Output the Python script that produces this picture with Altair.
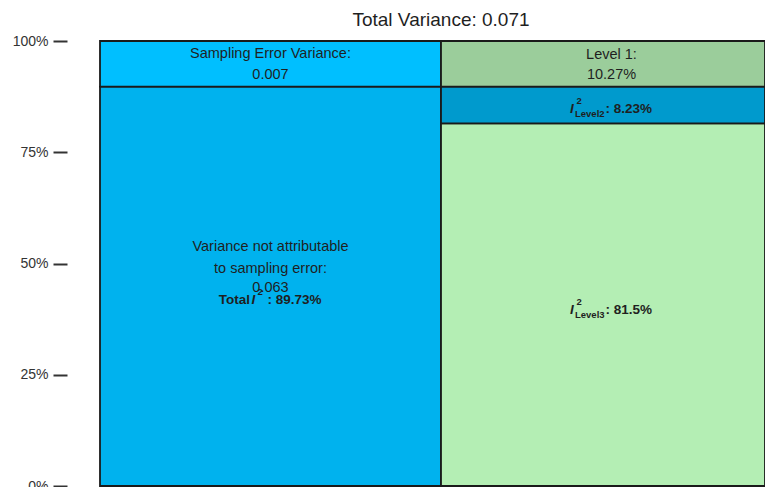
import altair as alt
import pandas as pd

FONT = "Liberation Sans"
TXT = "#1f1f1f"

# ---- data ----
columns = ["left", "left", "right", "right", "right"]
components = ["Not attributable", "Sampling error", "Level 3", "Level 2", "Level 1"]
percents = [89.73, 10.27, 81.5, 8.23, 10.27]
fill_colors = ["#00B2EE", "#00BFFF", "#B4EEB4", "#009ACD", "#9BCD9B"]
title_text = "Total Variance: 0.071"
sampling_variance = "0.007"
nonsampling_variance = "0.063"
y_ticks = [0, 25, 50, 75, 100]

W = 665          # visible plot width (the right column runs past the window edge)
COL_W = 341      # pixel width of one column
H = 445

col_index = {"left": 0, "right": 1}

# stack within each column
rows = []
cum = {}
for c, comp, p in zip(columns, components, percents):
    start = cum.get(c, 0.0)
    end = start + p
    cum[c] = end
    i = col_index[c]
    rows.append({"x0": i, "x1": i + 1, "xm": i + 0.5, "comp": comp,
                 "y0": start, "y1": end, "mid": (start + end) / 2})
df = pd.DataFrame(rows)
mid = {r["comp"]: (r["xm"], r["mid"]) for r in rows}

# clamp: the right column is cut at the edge of the visible area
xscale = alt.Scale(domain=[0, W / COL_W], nice=False, zero=False, clamp=True)
yscale = alt.Scale(domain=[0, 100], nice=False, zero=True)

yaxis = alt.Axis(
    values=y_ticks, labelExpr="datum.value + '%'", offset=33, tickSize=14,
    tickWidth=2, tickColor="#333333", domain=False, grid=False,
    labelFontSize=14, labelFont=FONT, labelColor="#333333", labelPadding=5,
    title=None,
)

bars = alt.Chart(df).mark_bar(stroke="#1a1a1a", strokeWidth=1.8).encode(
    x=alt.X("x0:Q", scale=xscale, axis=None),
    x2="x1:Q",
    y=alt.Y("y0:Q", scale=yscale, axis=yaxis),
    y2="y1:Q",
    color=alt.Color("comp:N", scale=alt.Scale(domain=components, range=fill_colors), legend=None),
)


def piece(comp, text, dx=0, dy=0, size=14.5, weight="normal", style="normal", align="center"):
    xm, m = mid[comp]
    d = pd.DataFrame({"x": [xm], "y": [m], "t": [text]})
    return alt.Chart(d).mark_text(
        dx=dx, dy=dy, fontSize=size, fontWeight=weight, fontStyle=style,
        align=align, baseline="middle", font=FONT, color=TXT,
    ).encode(
        x=alt.X("x:Q", scale=xscale, axis=None),
        y=alt.Y("y:Q", scale=yscale, axis=yaxis),
        text="t:N",
    )


# chart title as a text mark centred over the full (two-column) plot
title = alt.Chart(pd.DataFrame({"t": [title_text]})).mark_text(
    fontSize=19, font=FONT, color=TXT, align="center", baseline="alphabetic",
).encode(x=alt.value(COL_W), y=alt.value(-15), text="t:N")

B = 13.5
S = 9.5
layers = [
    bars,
    title,
    piece("Sampling error", "Sampling Error Variance:", dy=-10),
    piece("Sampling error", sampling_variance, dy=11),
    piece("Level 1", "Level 1:", dy=-9),
    piece("Level 1", f"{percents[4]}%", dy=11),
    piece("Not attributable", "Variance not attributable", dy=-39.5),
    piece("Not attributable", "to sampling error:", dy=-17.5),
    piece("Not attributable", nonsampling_variance, dy=1.5),
    piece("Not attributable", "Total", dx=-20.5, dy=13.5, size=B, weight="bold", align="right"),
    piece("Not attributable", "I", dx=-19, dy=13.5, size=B, weight="bold", style="italic", align="left"),
    piece("Not attributable", "2", dx=-13, dy=5.5, size=S, weight="bold", align="left"),
    piece("Not attributable", f": {percents[0]}%", dx=-3, dy=13.5, size=B, weight="bold", align="left"),
]
for comp, sub, val, dmain in [("Level 2", "Level2", percents[3], 3.5), ("Level 3", "Level3", percents[2], 5)]:
    layers += [
        piece(comp, "I", dx=-41.5, dy=dmain, size=B, weight="bold", style="italic", align="left"),
        piece(comp, "2", dx=-35, dy=dmain - 7.5, size=S, weight="bold", align="left"),
        piece(comp, sub, dx=-36.5, dy=dmain + 5, size=S, weight="bold", align="left"),
        piece(comp, f": {val}%", dx=-6, dy=dmain, size=B, weight="bold", align="left"),
    ]

chart = alt.layer(*layers).properties(
    width=W, height=H,
    autosize=alt.AutoSizeParams(type="none"),
    padding={"left": 92, "top": 33, "right": 0, "bottom": 1},
).configure_view(stroke=None)

chart.save("out.html", embed_options={"renderer": "svg", "actions": False})
